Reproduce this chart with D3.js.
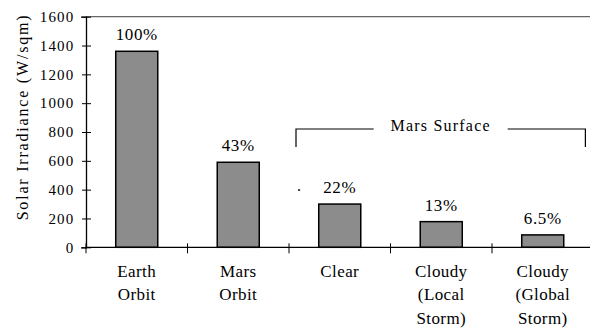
<!DOCTYPE html>
<html>
<head>
<meta charset="utf-8">
<script src="https://cdn.jsdelivr.net/npm/d3@7"></script>
<style>
  html, body { margin: 0; padding: 0; background: #fff; }
  svg { display: block; }
  text { font-family: "Liberation Serif", "Times New Roman", serif; fill: #000; }
</style>
</head>
<body>
<svg id="chart" width="590" height="331" font-family="Liberation Serif"></svg>
<script>
// Solar irradiance at Earth orbit, Mars orbit and the Martian surface
const categories = [
  ["Earth", "Orbit"],
  ["Mars", "Orbit"],
  ["Clear"],
  ["Cloudy", "(Local", "Storm)"],
  ["Cloudy", "(Global", "Storm)"]
];
const irradiance = [1360, 590, 300, 178, 86];
const percentLabels = ["100%", "43%", "22%", "13%", "6.5%"];
const yTicks = [0, 200, 400, 600, 800, 1000, 1200, 1400, 1600];
const groupLabel = "Mars Surface";
const groupFirst = 2;   // index of first category in the surface group
const groupLast = 4;
const yTitle = "Solar Irradiance (W/sqm)";

const W = 590, H = 331;
const plotLeft = 86, plotTop = 16.7, plotBottom = 247.3, plotRight = 593.5;

const svg = d3.select("#chart");

const x = d3.scaleBand()
  .domain(d3.range(categories.length))
  .range([plotLeft, plotRight])
  .paddingInner(0.586)
  .paddingOuter(0.293);

const y = d3.scaleLinear().domain([0, 1600]).range([plotBottom, plotTop]);

// top frame line
svg.append("line")
  .attr("x1", plotLeft).attr("x2", W)
  .attr("y1", y(1600)).attr("y2", y(1600))
  .attr("stroke", "#666").attr("stroke-width", 1.2);

// bars
svg.selectAll("rect.bar")
  .data(irradiance)
  .join("rect")
  .attr("class", "bar")
  .attr("x", (d, i) => x(i))
  .attr("width", x.bandwidth())
  .attr("y", d => y(d))
  .attr("height", d => y(0) - y(d))
  .attr("fill", "#8c8c8c")
  .attr("stroke", "#000")
  .attr("stroke-width", 1.5);

// value labels
svg.selectAll("text.pct")
  .data(percentLabels)
  .join("text")
  .attr("class", "pct")
  .attr("x", (d, i) => x(i) + x.bandwidth() / 2)
  .attr("y", (d, i) => y(irradiance[i]) - 11)
  .attr("text-anchor", "middle")
  .attr("font-size", 17)
  .attr("letter-spacing", 0.6)
  .text(d => d);

// y axis
const yAxis = d3.axisLeft(y).tickValues(yTicks).tickFormat(d3.format("d")).tickSize(5).tickPadding(6);
const gy = svg.append("g").attr("transform", `translate(${plotLeft},0)`).call(yAxis);
gy.attr("font-family", null).attr("font-size", null);
gy.select(".domain").attr("stroke", "#000").attr("stroke-width", 1.3);
gy.selectAll(".tick line").attr("x2", 5).attr("x1", -4).attr("stroke", "#000");
gy.selectAll(".tick text")
  .attr("x", -11.5)
  .attr("font-size", 15)
  .attr("letter-spacing", 1.2)
  .attr("fill", "#000");

// x axis baseline
svg.append("line")
  .attr("x1", plotLeft).attr("x2", W)
  .attr("y1", y(0)).attr("y2", y(0))
  .attr("stroke", "#000").attr("stroke-width", 1.3);

// category separators
const step = x.step();
svg.selectAll("line.sep")
  .data(d3.range(categories.length + 1))
  .join("line")
  .attr("class", "sep")
  .attr("x1", i => plotLeft + i * step).attr("x2", i => plotLeft + i * step)
  .attr("y1", y(0) - 4).attr("y2", y(0) + 6)
  .attr("stroke", "#000").attr("stroke-width", 1);

// category labels
const cat = svg.selectAll("text.cat")
  .data(categories)
  .join("text")
  .attr("class", "cat")
  .attr("text-anchor", "middle")
  .attr("font-size", 17)
  .attr("letter-spacing", 0.4);
cat.each(function(lines, i) {
  const t = d3.select(this);
  lines.forEach((ln, k) => {
    t.append("tspan")
      .attr("x", x(i) + x.bandwidth() / 2)
      .attr("y", 277 + k * 23.3)
      .text(ln);
  });
});

// y axis title
svg.append("text")
  .attr("transform", `translate(27.5,117) rotate(-90)`)
  .attr("text-anchor", "middle")
  .attr("font-size", 16)
  .attr("letter-spacing", 1.8)
  .text(yTitle);

// Mars surface bracket
const gx1 = plotLeft + groupFirst * step + 7;
const gx2 = plotLeft + groupLast * step + step * 0.92;
const gy0 = 129, gyTick = 147;
const gcx = (gx1 + gx2) / 2;
const gap = 67;
svg.append("path")
  .attr("d", `M${gx1},${gyTick}V${gy0}H${gcx - gap}`)
  .attr("fill", "none").attr("stroke", "#000").attr("stroke-width", 1.2);
svg.append("path")
  .attr("d", `M${gcx + gap},${gy0}H${gx2}V${gyTick}`)
  .attr("fill", "none").attr("stroke", "#000").attr("stroke-width", 1.2);
svg.append("text")
  .attr("x", gcx).attr("y", gy0 + 2)
  .attr("text-anchor", "middle")
  .attr("font-size", 16)
  .attr("letter-spacing", 1.2)
  .text(groupLabel);

// stray period mark beside the surface group
svg.append("text")
  .attr("x", gx1 + 1).attr("y", 191)
  .attr("font-size", 16)
  .text(".");
</script>
</body>
</html>
